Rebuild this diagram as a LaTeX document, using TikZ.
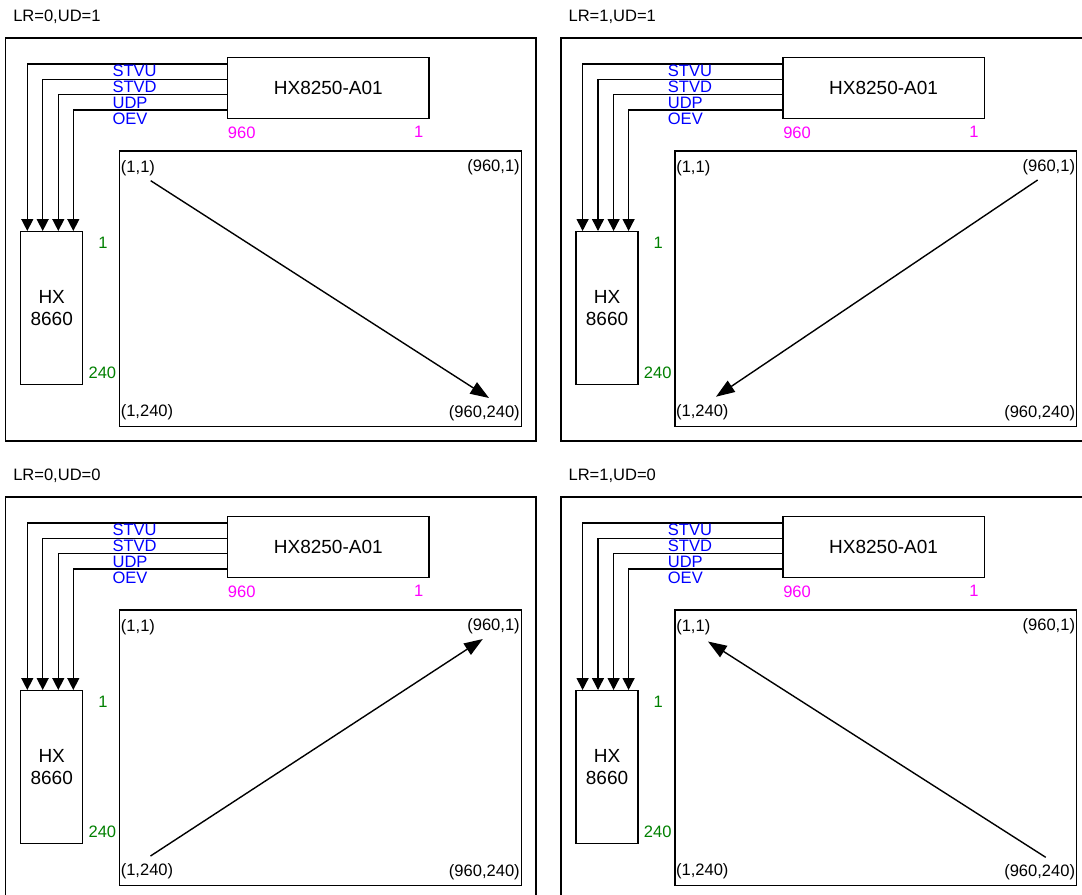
\documentclass[tikz,border=0pt]{standalone}
\usepackage{fontspec}
\setmainfont{Liberation Sans}
\usetikzlibrary{arrows.meta,calc}
\definecolor{lblblue}{RGB}{0,0,255}
\definecolor{lblmag}{RGB}{255,0,255}
\definecolor{lblgreen}{RGB}{0,128,0}
\tikzset{
  box/.style={draw, line width=1.05pt, inner sep=0pt},
  small/.style={font=\fontsize{12.4pt}{14pt}\selectfont, inner sep=0pt},
  big/.style={font=\fontsize{14.25pt}{16.7pt}\selectfont, inner sep=0pt, align=center},
  sig/.style={line width=1.05pt, -{Triangle[length=9pt,width=9pt]}},
  diag/.style={line width=1.05pt, -{Triangle[length=14pt,width=10pt]}},
}
\newcommand{\drawpanel}[6]{%
\begin{scope}[shift={(#1,#2)}, name prefix=#4-]
  \node[small, anchor=base west] (title) at (13,21.6) {#3};
  \node[box, minimum width=397.7pt, minimum height=302.25pt] (frame) at (270.85,239.5) {};
  \node[box, big, minimum width=151pt, minimum height=45.75pt] (ctrl) at (328.3,88.2) {HX8250-A01};
  \node[box, big, minimum width=46.5pt, minimum height=114.75pt] (gate) at (51.7,308.2) {HX\\8660};
  \node[box, minimum width=301.2pt, minimum height=206.5pt] (screen) at (320.5,288.65) {};
  \draw[sig] (ctrl.west |- 0,64) -| (gate.north -| 27.3,0);
  \draw[sig] (ctrl.west |- 0,79.3) -| (gate.north -| 42.7,0);
  \draw[sig] (ctrl.west |- 0,94.7) -| (gate.north -| 58.3,0);
  \draw[sig] (ctrl.west |- 0,110) -| (gate.north -| 73.3,0);
  \node[small, text=lblblue, anchor=base west] (stvu) at (112.3,76.7) {STVU};
  \node[small, text=lblblue, anchor=base west] (stvd) at (112.3,92.8) {STVD};
  \node[small, text=lblblue, anchor=base west] (udp) at (112.3,108.3) {UDP};
  \node[small, text=lblblue, anchor=base west] (oev) at (112.3,124) {OEV};
  \node[small, text=lblmag, anchor=base west] (src960) at (227.7,138) {960};
  \node[small, text=lblmag, anchor=base] (src1) at (418.7,137) {1};
  \node[small, text=lblgreen, anchor=base] (gate1) at (103,248.3) {1};
  \node[small, text=lblgreen, anchor=base west] (gate240) at (88.3,378.3) {240};
  \node[small, anchor=base west] (cTL) at (120.7,172) {(1,1)};
  \node[small, anchor=base east] (cTR) at (520,171) {(960,1)};
  \node[small, anchor=base west] (cBL) at (120.5,416.7) {(1,240)};
  \node[small, anchor=base east] (cBR) at (520,417) {(960,240)};
  \coordinate (start) at #5;
  \coordinate (end) at #6;
  \draw[diag] (start) -- (end);
\end{scope}}
\begin{document}
\begin{tikzpicture}[x=0.75pt, y=-0.75pt]
  \useasboundingbox (0,0) rectangle (1082,894);
  \fill[white] (0,0) rectangle (1082,894);
  \clip (0,0) rectangle (1082,894);
  \drawpanel{0}{0}{LR=0,UD=1}{pa}{(150.7,180.7)}{(489,398)}
  \drawpanel{555.3}{0}{LR=1,UD=1}{pb}{(482.3,180)}{(160.7,396.7)}
  \drawpanel{0}{459}{LR=0,UD=0}{pc}{(150.5,397)}{(482.8,180)}
  \drawpanel{555.3}{459}{LR=1,UD=0}{pd}{(490.4,398.3)}{(152.7,182.5)}
\end{tikzpicture}
\end{document}
